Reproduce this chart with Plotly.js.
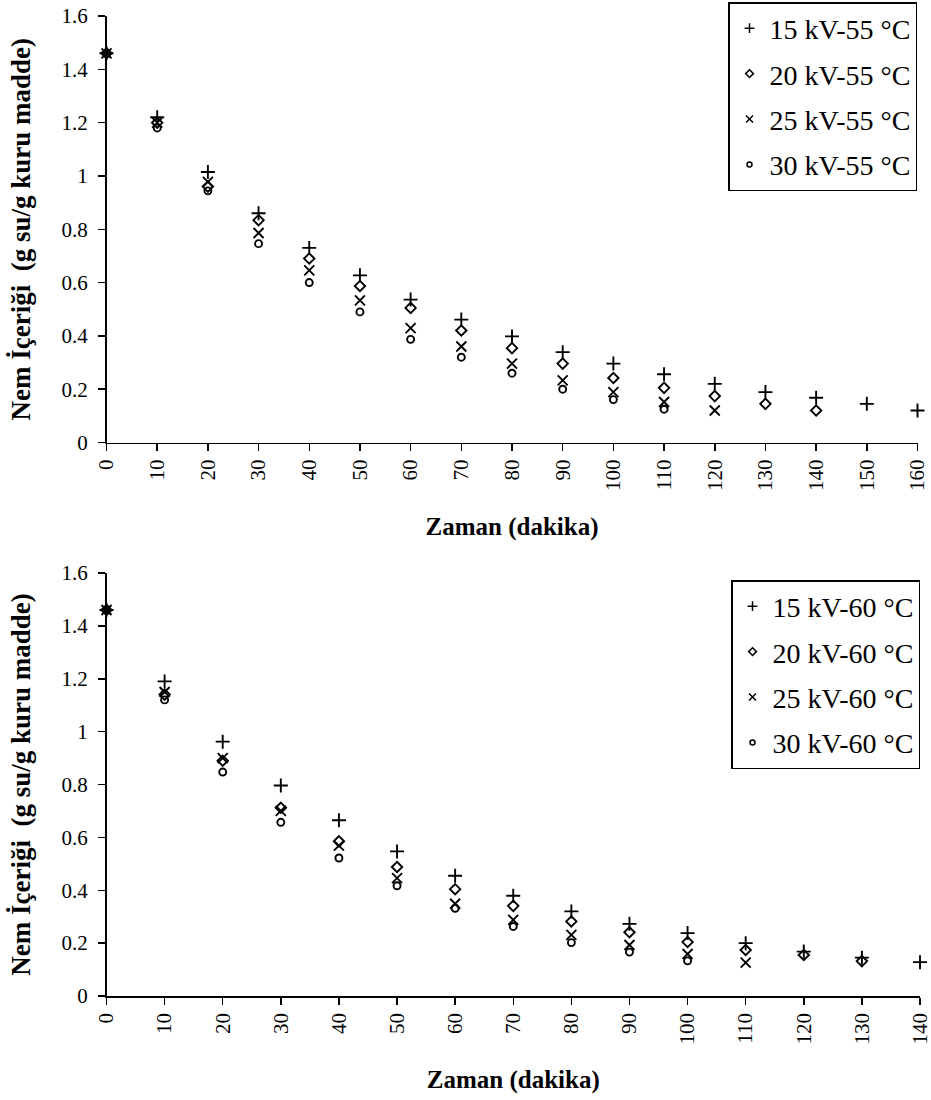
<!DOCTYPE html>
<html>
<head>
<meta charset="utf-8">
<script src="https://cdn.plot.ly/plotly-3.0.1.min.js"></script>
<style>html,body{margin:0;padding:0;background:#fff;}#chart{width:931px;height:1100px;}</style>
</head>
<body>
<div id="chart"></div>
<script>
// ---- data (top chart: 55 °C) ----
const time55 = [0,10,20,30,40,50,60,70,80,90,100,110,120,130,140,150,160];
const kv15_55 = [1.46,1.22,1.015,0.86,0.73,0.627,0.536,0.461,0.398,0.339,0.296,0.256,0.22,0.189,0.168,0.145,0.12];
const kv20_55 = [1.46,1.20,0.96,0.834,0.69,0.587,0.505,0.42,0.354,0.296,0.242,0.205,0.174,0.145,0.12];
const kv25_55 = [1.46,1.20,0.978,0.786,0.646,0.533,0.429,0.36,0.296,0.233,0.189,0.152,0.12];
const kv30_55 = [1.46,1.18,0.944,0.746,0.60,0.49,0.387,0.32,0.26,0.20,0.161,0.125];
const names55 = ['15 kV-55 °C','20 kV-55 °C','25 kV-55 °C','30 kV-55 °C'];

// ---- data (bottom chart: 60 °C) ----
const time60 = [0,10,20,30,40,50,60,70,80,90,100,110,120,130,140];
const kv15_60 = [1.46,1.19,0.962,0.796,0.665,0.547,0.455,0.379,0.32,0.273,0.238,0.20,0.168,0.145,0.128];
const kv20_60 = [1.46,1.14,0.89,0.712,0.585,0.488,0.404,0.341,0.282,0.241,0.204,0.174,0.155,0.132];
const kv25_60 = [1.46,1.15,0.90,0.70,0.569,0.446,0.349,0.288,0.231,0.193,0.159,0.126];
const kv30_60 = [1.46,1.12,0.847,0.657,0.522,0.417,0.332,0.263,0.202,0.166,0.133];
const names60 = ['15 kV-60 °C','20 kV-60 °C','25 kV-60 °C','30 kV-60 °C'];

// ---- tick labels ----
const yTickVals = [0,0.2,0.4,0.6,0.8,1,1.2,1.4,1.6];
const yTickText = ['0','0.2','0.4','0.6','0.8','1','1.2','1.4','1.6'];
const xTicks55 = [0,10,20,30,40,50,60,70,80,90,100,110,120,130,140,150,160];
const xTicks60 = [0,10,20,30,40,50,60,70,80,90,100,110,120,130,140];
const xTitle = 'Zaman (dakika)';
const yTitle = 'Nem İçeriği  (g su/g kuru madde)';

const FONT = '"Liberation Serif", "Times New Roman", serif';
const symbols = [
  {symbol:'cross-thin-open', size:10, leg:7},
  {symbol:'diamond-open', size:8, leg:6},
  {symbol:'x-thin-open', size:10, leg:7},
  {symbol:'circle-open', size:7, leg:5}
];

function mk(x, y, name, i, xa, ya) {
  return {
    type:'scatter', mode:'markers', x:x.slice(0,y.length), y:y, name:name,
    xaxis:xa, yaxis:ya, showlegend:false, cliponaxis:false,
    marker:{symbol:symbols[i].symbol, size:symbols[i].size, color:'#000',
            line:{color:'#111', width:1.9}}
  };
}
// legend entries (small symbols as in the original legend)
function lg(name, i, xa, ya, leg) {
  return {
    type:'scatter', mode:'markers', x:[null], y:[null], name:name,
    xaxis:xa, yaxis:ya, legend:leg, legendgroup:leg+i, showlegend:true,
    marker:{symbol:symbols[i].symbol, size:symbols[i].leg, color:'#000',
            line:{color:'#111', width:1.5}}
  };
}

const traces = [
  mk(time55, kv15_55, names55[0], 0, 'x', 'y'),
  mk(time55, kv20_55, names55[1], 1, 'x', 'y'),
  mk(time55, kv25_55, names55[2], 2, 'x', 'y'),
  mk(time55, kv30_55, names55[3], 3, 'x', 'y'),
  mk(time60, kv15_60, names60[0], 0, 'x2', 'y2'),
  mk(time60, kv20_60, names60[1], 1, 'x2', 'y2'),
  mk(time60, kv25_60, names60[2], 2, 'x2', 'y2'),
  mk(time60, kv30_60, names60[3], 3, 'x2', 'y2')
];
names55.forEach((n,i)=>traces.push(lg(n, i, 'x', 'y', 'legend')));
names60.forEach((n,i)=>traces.push(lg(n, i, 'x2', 'y2', 'legend2')));

function xax(range, ticks, dom, anchor) {
  return {
    domain:dom, anchor:anchor, range:range, tickmode:'array', tickvals:ticks,
    ticktext:ticks.map(String), tickangle:-90, ticklabeloverflow:'allow',
    showline:true, linecolor:'#000', linewidth:1.5, ticks:'outside', ticklen:7,
    tickwidth:1.5, tickcolor:'#000', showgrid:false, zeroline:false,
    tickfont:{family:FONT, size:21, color:'#000'},
    title:{text:'<b>'+xTitle+'</b>', font:{family:FONT, size:25, color:'#000'}, standoff:27}
  };
}
function yax(dom, anchor) {
  return {
    domain:dom, anchor:anchor, range:[0,1.6], tickmode:'array', tickvals:yTickVals,
    ticktext:yTickText,
    showline:true, linecolor:'#000', linewidth:1.5, ticks:'outside', ticklen:7,
    tickwidth:1.5, tickcolor:'#000', showgrid:false, zeroline:false,
    ticklabelstandoff:6,
    tickfont:{family:FONT, size:21, color:'#000'},
    title:{text:'<b>'+yTitle+'</b>', font:{family:FONT, size:27, color:'#000'}, standoff:23}
  };
}

const legStyle = {
  font:{family:FONT, size:28, color:'#000'}, bgcolor:'#fff',
  bordercolor:'#000', borderwidth:1.5, tracegroupgap:6, itemclick:false, itemwidth:30
};

const layout = {
  width:931, height:1100,
  margin:{l:0, r:0, t:0, b:0},
  paper_bgcolor:'#fff', plot_bgcolor:'#fff',
  showlegend:true,
  xaxis: xax([0,160], xTicks55, [106.5/931, 917.5/931], 'y'),
  yaxis: yax([1-442.5/1100, 1-16/1100], 'x'),
  xaxis2: xax([0,140], xTicks60, [106.5/931, 920/931], 'y2'),
  yaxis2: yax([1-996/1100, 1-573/1100], 'x2'),
  legend: Object.assign({x:917/931, xanchor:'right', y:1-2/1100, yanchor:'top'}, legStyle),
  legend2: Object.assign({x:920/931, xanchor:'right', y:1-580/1100, yanchor:'top'}, legStyle)
};

Plotly.newPlot('chart', traces, layout, {staticPlot:true, displayModeBar:false});
</script>
</body>
</html>
